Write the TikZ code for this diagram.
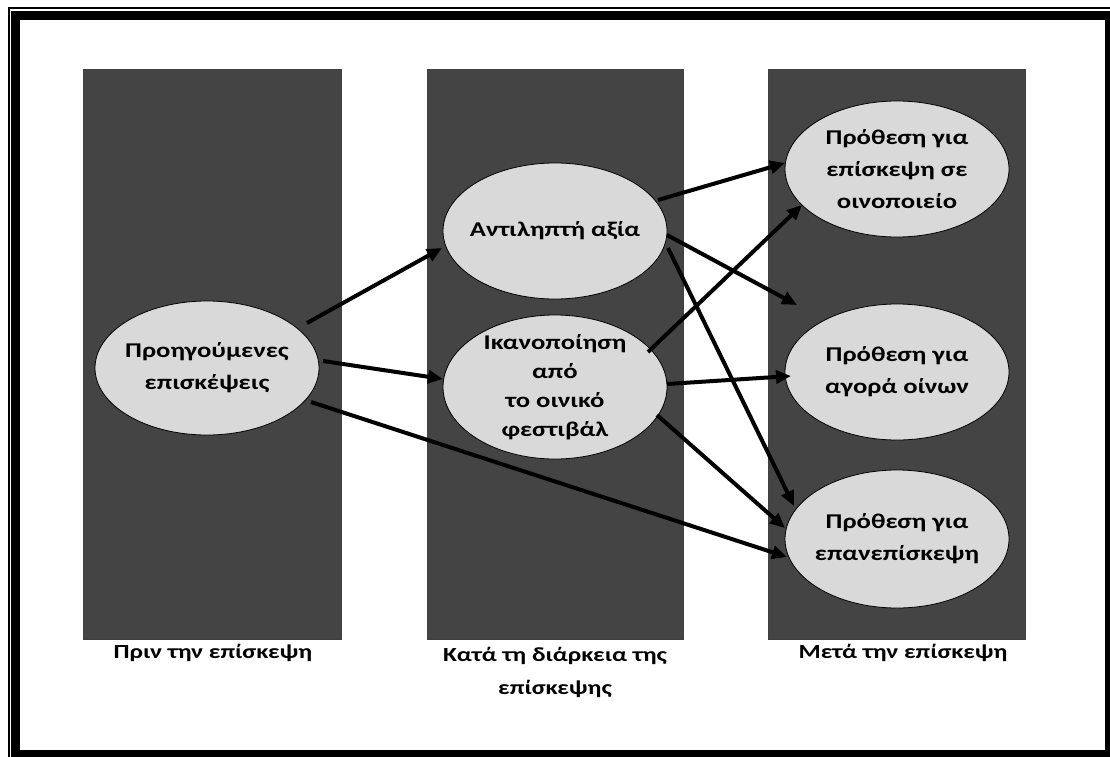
\documentclass[tikz,border=0pt]{standalone}
\usepackage{fontspec}
\setmainfont{Carlito}[FakeStretch=1.27]
\usetikzlibrary{shapes.geometric,arrows.meta,calc}
\definecolor{panelgray}{HTML}{444444}
\definecolor{bubblegray}{HTML}{D9D9D9}
\begin{document}
\begin{tikzpicture}[x=1pt,y=-1pt,
  panel/.style={fill=panelgray,draw=black!75,line width=1pt},
  bubble/.style={ellipse,fill=bubblegray,draw=black,line width=0.8pt,
    minimum width=224pt,minimum height=136pt,inner xsep=-40pt,inner ysep=-30pt,
    align=center,font=\fontsize{21}{32}\selectfont\bfseries},
  arr/.style={line width=4pt,-{Triangle[length=15pt,width=13pt]}},
  phase/.style={align=center,font=\fontsize{20}{33}\selectfont\bfseries,inner sep=0pt}]

\useasboundingbox (0,0) rectangle (1110,756);
\clip (0,0) rectangle (1110,756);

% double frame
\draw[line width=1.5pt] (9,8) rectangle (1118,762);
\draw[line width=9pt] (15.5,15) rectangle (1109.5,754.5);

% three phase panels
\draw[panel] (83,69) rectangle (341,639);
\draw[panel] (427,69) rectangle (683,639);
\draw[panel] (768,69) rectangle (1025,639);

% constructs
\node[bubble,minimum height=134pt] (prev) at (207,368) {Προηγούμενες\\επισκέψεις};
\node[bubble] (perc) at (555,231) {Αντιληπτή αξία};
\node[bubble,minimum height=144pt,font=\fontsize{21}{29}\selectfont\bfseries] (sat) at (555,387) {Ικανοποίηση\\από\\το οινικό\\φεστιβάλ};
\node[bubble] (winery) at (897,169) {Πρόθεση για\\επίσκεψη σε\\οινοποιείο};
\node[bubble] (buy) at (897,372) {Πρόθεση για\\αγορά οίνων};
\node[bubble,minimum height=138pt] (revisit) at (897,539) {Πρόθεση για\\επανεπίσκεψη};

% paths
\draw[arr] ($(prev)+(100,-45)$) -- ($(perc)+(-113,17)$);
\draw[arr] ($(prev)+(116,-7)$) -- ($(sat)+(-112,-8)$);
\draw[arr] ($(prev)+(104,34)$) -- ($(revisit)+(-110,18)$);
\draw[arr] ($(sat)+(102,28)$) -- ($(revisit)+(-112,-11)$);
\draw[arr] ($(perc)+(113,17)$) -- ($(revisit)+(-103,-33)$);
\draw[arr] ($(perc)+(103,-31)$) -- ($(winery)+(-112,-6)$);
\draw[arr] ($(sat)+(93,-35)$) -- ($(winery)+(-95,36)$);
\draw[arr] ($(perc)+(112,4)$) -- ($(buy)+(-100,-67)$);
\draw[arr] ($(sat)+(112,-3)$) -- ($(buy)+(-106,4)$);

% phase captions
\node[phase,anchor=base] (before) at (213,658) {Πριν την επίσκεψη};
\node[phase,anchor=north] (during) at (555,647) {Κατά τη διάρκεια της\\επίσκεψης};
\node[phase,anchor=base] (after) at (903,658) {Μετά την επίσκεψη};
\end{tikzpicture}
\end{document}
